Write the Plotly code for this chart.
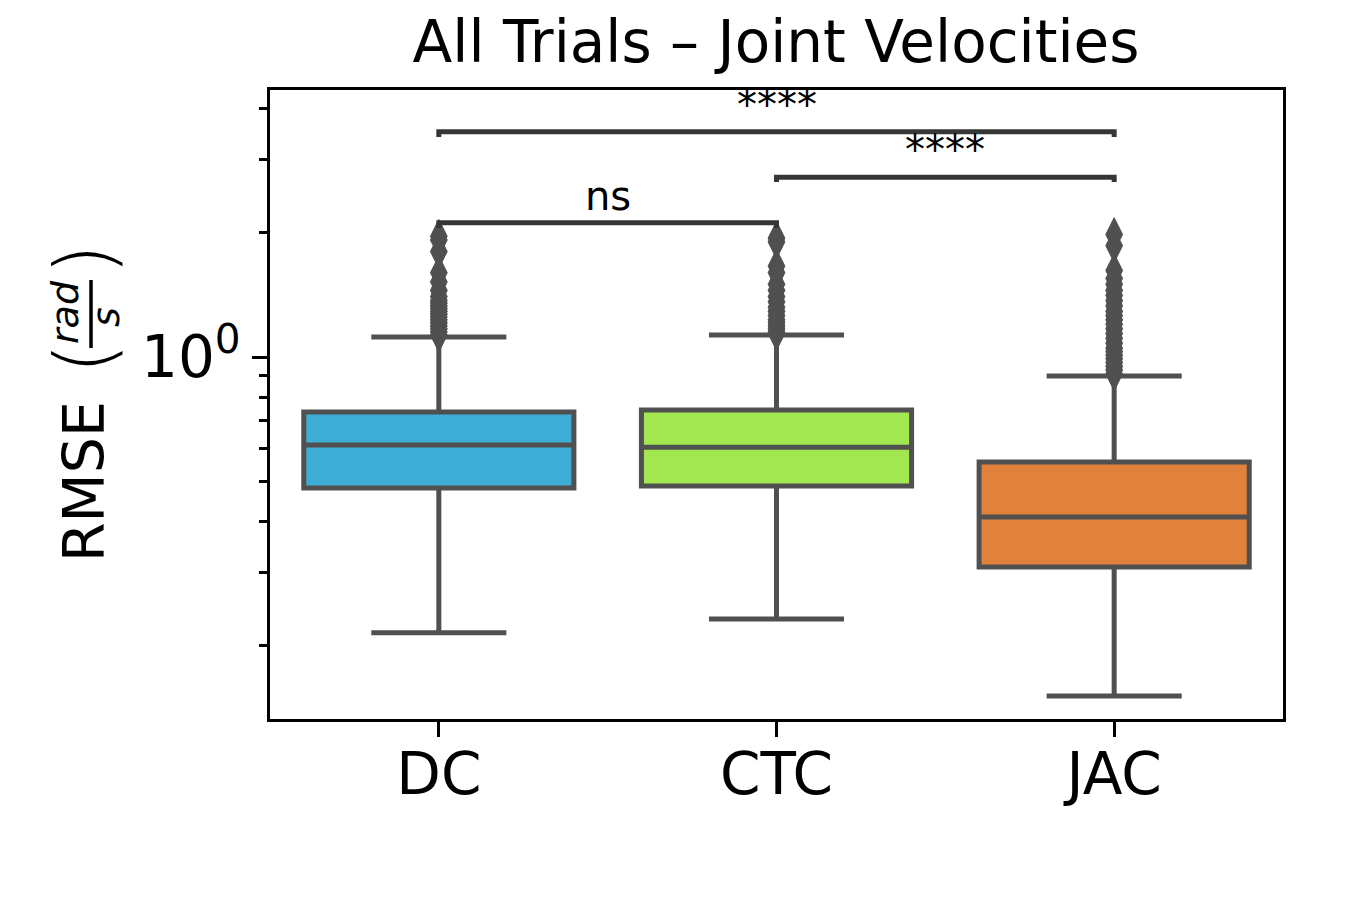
import math
import plotly.graph_objects as go

# ---- data ----
categories = ["DC", "CTC", "JAC"]
q1 = [0.482, 0.487, 0.310]
median = [0.612, 0.605, 0.410]
q3 = [0.736, 0.744, 0.557]
lower_whisker = [0.215, 0.232, 0.151]
upper_whisker = [1.118, 1.131, 0.899]

dc_outliers = [1.96, 1.92, 1.80, 1.60, 1.52, 1.45, 1.40, 1.37, 1.35, 1.33, 1.31,
               1.29, 1.27, 1.25, 1.23, 1.21, 1.19, 1.17, 1.15, 1.13]
ctc_outliers = [1.94, 1.90, 1.66, 1.60, 1.50, 1.45, 1.40, 1.36, 1.32, 1.29, 1.26,
                1.23, 1.21, 1.19, 1.17, 1.15, 1.14]
jac_outliers = [1.98, 1.86, 1.62, 1.55, 1.50, 1.45, 1.41, 1.37, 1.33, 1.29, 1.26,
                1.23, 1.20, 1.17, 1.14, 1.11, 1.08, 1.05, 1.03, 1.01, 0.99, 0.97,
                0.95, 0.93, 0.91]
outliers = [dc_outliers, ctc_outliers, jac_outliers]

fill_colors = ["#3EAED6", "#A2E650", "#E0823C"]
edge_color = "#505050"

# significance brackets
brk_left = [0, 1, 0]
brk_right = [1, 2, 2]
brk_y = [2.114, 2.723, 3.512]
brk_tip = [2.052, 2.653, 3.41]
brk_text = ["ns", "****", "****"]

y_ticks_major = [1]
y_ticks_major_text = ["10<sup>0</sup>"]
y_ticks_minor = [0.2, 0.3, 0.4, 0.5, 0.6, 0.7, 0.8, 0.9, 2, 3, 4]
y_log_range = [-0.8765, 0.6465]

FONT = "DejaVu Sans"

# plot-area geometry (screen px) used to place the axis-label pieces
PX_L, PX_R, PX_T, PX_B = 270, 1283, 90, 719


def px_x(p):
    return (p - PX_L) / (PX_R - PX_L)


def px_y(p):
    return (PX_B - p) / (PX_B - PX_T)


fig = go.Figure()

for i, cat in enumerate(categories):
    fig.add_trace(go.Box(
        x=[i], q1=[q1[i]], median=[median[i]], q3=[q3[i]],
        lowerfence=[lower_whisker[i]], upperfence=[upper_whisker[i]],
        fillcolor=fill_colors[i],
        line=dict(color=edge_color, width=5),
        whiskerwidth=0.5, width=0.8, boxpoints=False,
        hoverinfo="skip", showlegend=False,
    ))
    fig.add_trace(go.Scatter(
        x=[i] * len(outliers[i]), y=outliers[i], mode="markers",
        marker=dict(symbol="diamond-tall", size=24, color=edge_color,
                    line=dict(color=edge_color, width=1)),
        hoverinfo="skip", showlegend=False,
    ))

for l, r, yb, yt, txt in zip(brk_left, brk_right, brk_y, brk_tip, brk_text):
    fig.add_trace(go.Scatter(
        x=[l, l, r, r], y=[yt, yb, yb, yt], mode="lines",
        line=dict(color="#363636", width=5),
        hoverinfo="skip", showlegend=False,
    ))
    fig.add_annotation(
        x=(l + r) / 2, y=math.log10(yb), xref="x", yref="y", yanchor="bottom",
        text=txt, showarrow=False, yshift=2,
        font=dict(family=FONT, size=40, color="black"),
    )

# y-axis label: "RMSE (rad / s)" with a stacked fraction
lab_font = dict(family=FONT, size=57, color="black")
frac_font = dict(family=FONT, size=38, color="black")
paren_font = dict(family=FONT, size=80, color="black", weight=200)
for txt, x, y, f in [("RMSE", 84, 482, lab_font),
                     ("<i>rad</i>", 65, 312, frac_font),
                     ("<i>s</i>", 106, 317, frac_font),
                     ("(", 84, 359, paren_font),
                     (")", 84, 260, paren_font)]:
    fig.add_annotation(x=px_x(x), y=px_y(y), xref="paper", yref="paper",
                       text=txt, textangle=-90, showarrow=False,
                       xanchor="center", yanchor="middle", font=f)
fig.add_shape(type="line", xref="paper", yref="paper",
              x0=px_x(91), x1=px_x(91), y0=px_y(280), y1=px_y(348),
              line=dict(color="black", width=3.5))

fig.update_layout(
    width=1350, height=900,
    margin=dict(l=262, r=75, t=82, b=189),
    paper_bgcolor="white", plot_bgcolor="white",
    showlegend=False,
    title=dict(text="All Trials – Joint Velocities", x=768 / 1350, xanchor="center",
               y=1 - 34 / 900, yanchor="middle",
               font=dict(family=FONT, size=58, color="black")),
    xaxis=dict(
        range=[-0.5, 2.5], tickvals=[0, 1, 2], ticktext=categories,
        ticks="outside", ticklen=15, tickwidth=2.5, tickcolor="black",
        showline=True, linecolor="black", linewidth=2.5, mirror=True,
        showgrid=False, zeroline=False, ticklabelstandoff=-12,
        tickfont=dict(family=FONT, size=58, color="black"),
    ),
    yaxis=dict(
        type="log", range=y_log_range,
        tickvals=y_ticks_major, ticktext=y_ticks_major_text,
        ticks="outside", ticklen=15, tickwidth=2.5, tickcolor="black",
        minor=dict(tickmode="array", tickvals=y_ticks_minor, ticks="outside",
                   ticklen=8, tickwidth=2.5, tickcolor="black", showgrid=False),
        showline=True, linecolor="black", linewidth=2.5, mirror=True,
        showgrid=False, zeroline=False,
        tickfont=dict(family=FONT, size=58, color="black"),
    ),
)

fig.write_html("out.html")
